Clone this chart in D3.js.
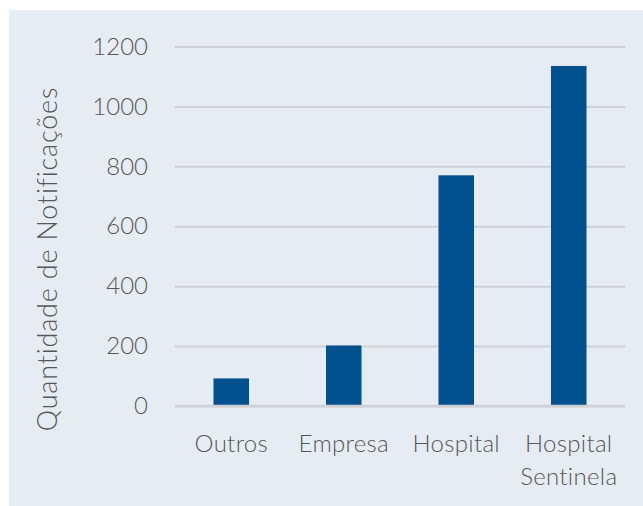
<!DOCTYPE html>
<html>
<head>
<meta charset="utf-8">
<script src="https://cdn.jsdelivr.net/npm/d3@7"></script>
<style>
  html, body { margin: 0; padding: 0; background: #ffffff; }
  svg { display: block; }
  text { font-family: Lato, "Open Sans", sans-serif; fill: #575757; }
</style>
</head>
<body>
<svg id="chart" width="643" height="506"></svg>
<script>
// Notificações por tipo de fonte notificadora
const categories = [["Outros"], ["Empresa"], ["Hospital"], ["Hospital", "Sentinela"]];
const values = [92, 202, 770, 1135];
const yTicks = [0, 200, 400, 600, 800, 1000, 1200];
const yTitle = "Quantidade de Notificações";

const W = 643, H = 506;
const margin = { left: 175, right: 18, top: 46.5, bottom: 100 };

const svg = d3.select("#chart");

// panel background
svg.append("rect")
  .attr("x", 9).attr("y", 10)
  .attr("width", W - 9).attr("height", H - 10)
  .attr("fill", "#e6ecf4");

const keys = categories.map(c => c.join(" "));

const x = d3.scaleBand()
  .domain(keys)
  .range([margin.left, W - margin.right])
  .paddingInner(0.684)
  .paddingOuter(0.342);

const y = d3.scaleLinear()
  .domain([0, 1200])
  .range([406, margin.top]);

// horizontal gridlines with tick labels
const yAxis = d3.axisLeft(y)
  .tickValues(yTicks)
  .tickSize(-(x.range()[1] - x.range()[0]))
  .tickPadding(27)
  .tickFormat(d3.format("d"));

const gy = svg.append("g")
  .attr("transform", `translate(${margin.left},0)`)
  .call(yAxis);
gy.select(".domain").remove();
gy.selectAll(".tick line")
  .attr("stroke", "#cfd1d4")
  .attr("stroke-width", 2);
gy.selectAll(".tick text")
  .attr("font-size", 24)
  .attr("font-weight", 300)
  .attr("fill", "#575757");

// bars
svg.append("g")
  .selectAll("rect")
  .data(values)
  .join("rect")
  .attr("x", (d, i) => x(keys[i]))
  .attr("width", x.bandwidth())
  .attr("y", d => y(d))
  .attr("height", d => y(0) - y(d))
  .attr("fill", "#03508f");

// baseline redrawn over the bars
svg.append("line")
  .attr("x1", x.range()[0]).attr("x2", x.range()[1])
  .attr("y1", y(0)).attr("y2", y(0))
  .attr("stroke", "#cfd1d4")
  .attr("stroke-width", 2.5);

// category labels (multi-line)
const lab = svg.append("g")
  .selectAll("text")
  .data(categories)
  .join("text")
  .attr("text-anchor", "middle")
  .attr("font-size", 24)
  .attr("font-weight", 300)
  .attr("letter-spacing", 0.3)
  .attr("x", (d, i) => x(keys[i]) + x.bandwidth() / 2)
  .attr("y", 452);
lab.selectAll("tspan")
  .data(d => d)
  .join("tspan")
  .attr("x", function () { return d3.select(this.parentNode).attr("x"); })
  .attr("dy", (d, i) => i === 0 ? 0 : 33)
  .text(d => d);

// y-axis title
svg.append("text")
  .attr("transform", "translate(57,259) rotate(-90)")
  .attr("text-anchor", "middle")
  .attr("font-size", 27)
  .attr("font-weight", 300)
  .attr("letter-spacing", 0.8)
  .text(yTitle);
</script>
</body>
</html>
